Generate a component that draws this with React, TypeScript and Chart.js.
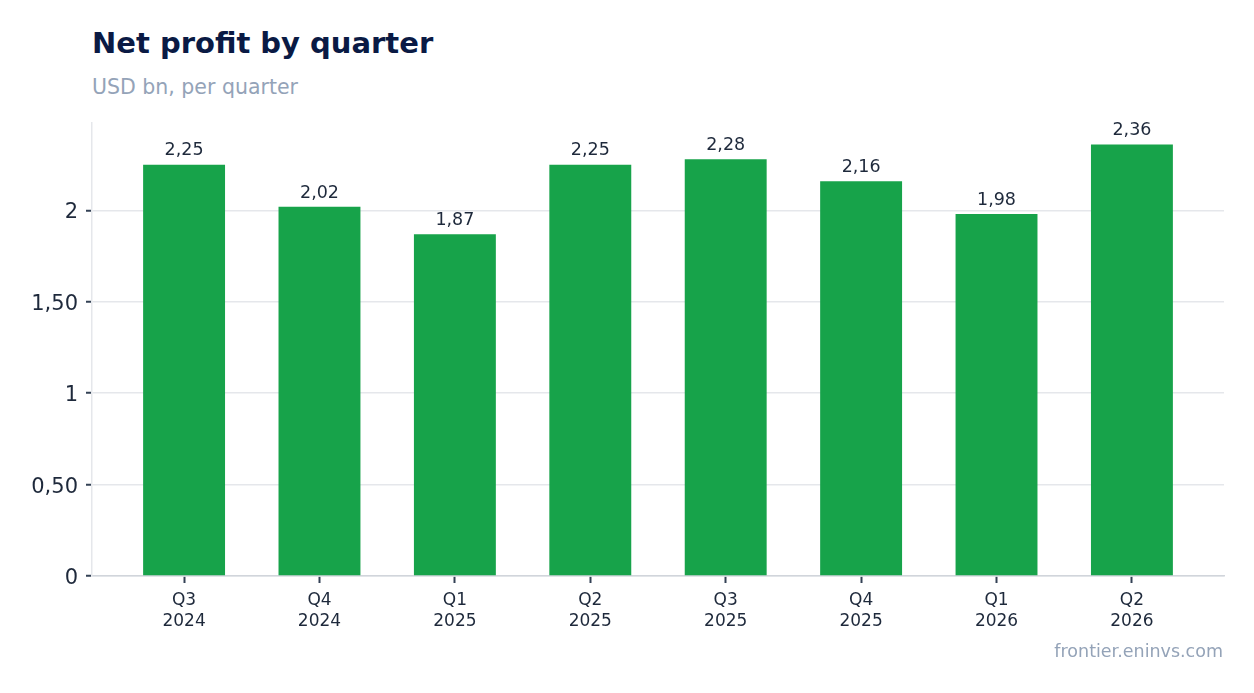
import React, { useEffect, useRef } from 'react';
import { Chart, registerables } from 'chart.js';

Chart.register(...registerables);

const quarters: string[][] = [
  ['Q3', '2024'],
  ['Q4', '2024'],
  ['Q1', '2025'],
  ['Q2', '2025'],
  ['Q3', '2025'],
  ['Q4', '2025'],
  ['Q1', '2026'],
  ['Q2', '2026'],
];
const netProfit: number[] = [2.25, 2.02, 1.87, 2.25, 2.28, 2.16, 1.98, 2.36];
const yTicks: number[] = [0, 0.5, 1, 1.5, 2];

const FONT = "'DejaVu Sans', sans-serif";
const GREEN = '#17a34a';
const INK = '#1e293b';

// "2,25" style; round values lose their zeros ("2", "1", "0")
const fmt = (v: number) => {
  const s = v.toFixed(2).replace('.', ',');
  return s.endsWith(',00') ? s.slice(0, -3) : s;
};

const valueLabels = {
  id: 'valueLabels',
  afterDatasetsDraw(chart: Chart) {
    const ctx = chart.ctx;
    const meta = chart.getDatasetMeta(0);
    ctx.save();
    ctx.font = `17.5px ${FONT}`;
    ctx.fillStyle = INK;
    ctx.textAlign = 'center';
    ctx.textBaseline = 'bottom';
    meta.data.forEach((bar: any, i: number) => {
      ctx.fillText(fmt(netProfit[i]), bar.x, bar.y - 5);
    });
    ctx.restore();
  },
};

const NetProfitChart: React.FC = () => {
  const canvasRef = useRef<HTMLCanvasElement>(null);

  useEffect(() => {
    if (!canvasRef.current) return;
    const chart = new Chart(canvasRef.current, {
      type: 'bar',
      data: {
        datasets: [
          {
            data: netProfit.map((v, i) => ({ x: i, y: v })),
            backgroundColor: GREEN,
            barPercentage: 0.605,
            categoryPercentage: 1,
          },
        ],
      },
      options: {
        animation: false,
        responsive: true,
        maintainAspectRatio: false,
        layout: { padding: { top: 123, right: 30, bottom: 40, left: 0 } },
        plugins: {
          legend: { display: false },
          tooltip: { enabled: false },
        },
        scales: {
          x: {
            type: 'linear',
            offset: false,
            min: -0.68,
            max: quarters.length - 1 + 0.68,
            afterFit: (scale: any) => {
              scale.height = 77;
            },
            grid: {
              offset: false,
              drawOnChartArea: false,
              tickLength: 7,
              tickColor: '#334155',
              tickWidth: 2,
            },
            border: { color: '#d1d5db', width: 1.5 },
            ticks: {
              stepSize: 1,
              includeBounds: false,
              color: INK,
              font: { family: FONT, size: 17, lineHeight: 1.24 },
              padding: 7,
              maxRotation: 0,
              autoSkip: false,
              callback: (v: any) => quarters[Number(v)] ?? '',
            },
          },
          y: {
            min: 0,
            max: Math.max(...netProfit) * 1.05,
            afterFit: (scale: any) => {
              scale.width = 92;
            },
            afterBuildTicks: (scale: any) => {
              scale.ticks = yTicks.map((v) => ({ value: v }));
            },
            grid: {
              color: '#e5e7eb',
              lineWidth: 1.5,
              tickLength: 6,
              tickColor: '#334155',
              tickWidth: 2,
            },
            border: { color: '#e5e7eb', width: 1.5 },
            ticks: {
              color: INK,
              // empty first line nudges the label a couple of px down
              font: { family: FONT, size: 21, lineHeight: 0.24 },
              padding: 8,
              callback: (v: any) => ['', fmt(Number(v))],
            },
          },
        },
      },
      plugins: [valueLabels],
    });
    return () => chart.destroy();
  }, []);

  return <canvas ref={canvasRef} />;
};

export default function App() {
  return (
    <div
      style={{
        position: 'absolute',
        left: 0,
        top: 0,
        width: 1254,
        height: 693,
        background: '#ffffff',
        fontFamily: FONT,
      }}
    >
      <div
        style={{
          position: 'absolute',
          left: 92,
          top: 29,
          fontSize: 29,
          lineHeight: 1,
          fontWeight: 'bold',
          color: '#0a1a44',
          whiteSpace: 'nowrap',
        }}
      >
        Net profit by quarter
      </div>
      <div
        style={{
          position: 'absolute',
          left: 92,
          top: 77,
          fontSize: 20.5,
          lineHeight: 1,
          color: '#94a3b8',
          whiteSpace: 'nowrap',
        }}
      >
        USD bn, per quarter
      </div>
      <div style={{ position: 'absolute', left: 0, top: 0, width: 1254, height: 693 }}>
        <NetProfitChart />
      </div>
      <div
        style={{
          position: 'absolute',
          right: 31,
          top: 643,
          fontSize: 17.5,
          lineHeight: 1,
          color: '#94a3b8',
          whiteSpace: 'nowrap',
        }}
      >
        frontier.eninvs.com
      </div>
    </div>
  );
}
